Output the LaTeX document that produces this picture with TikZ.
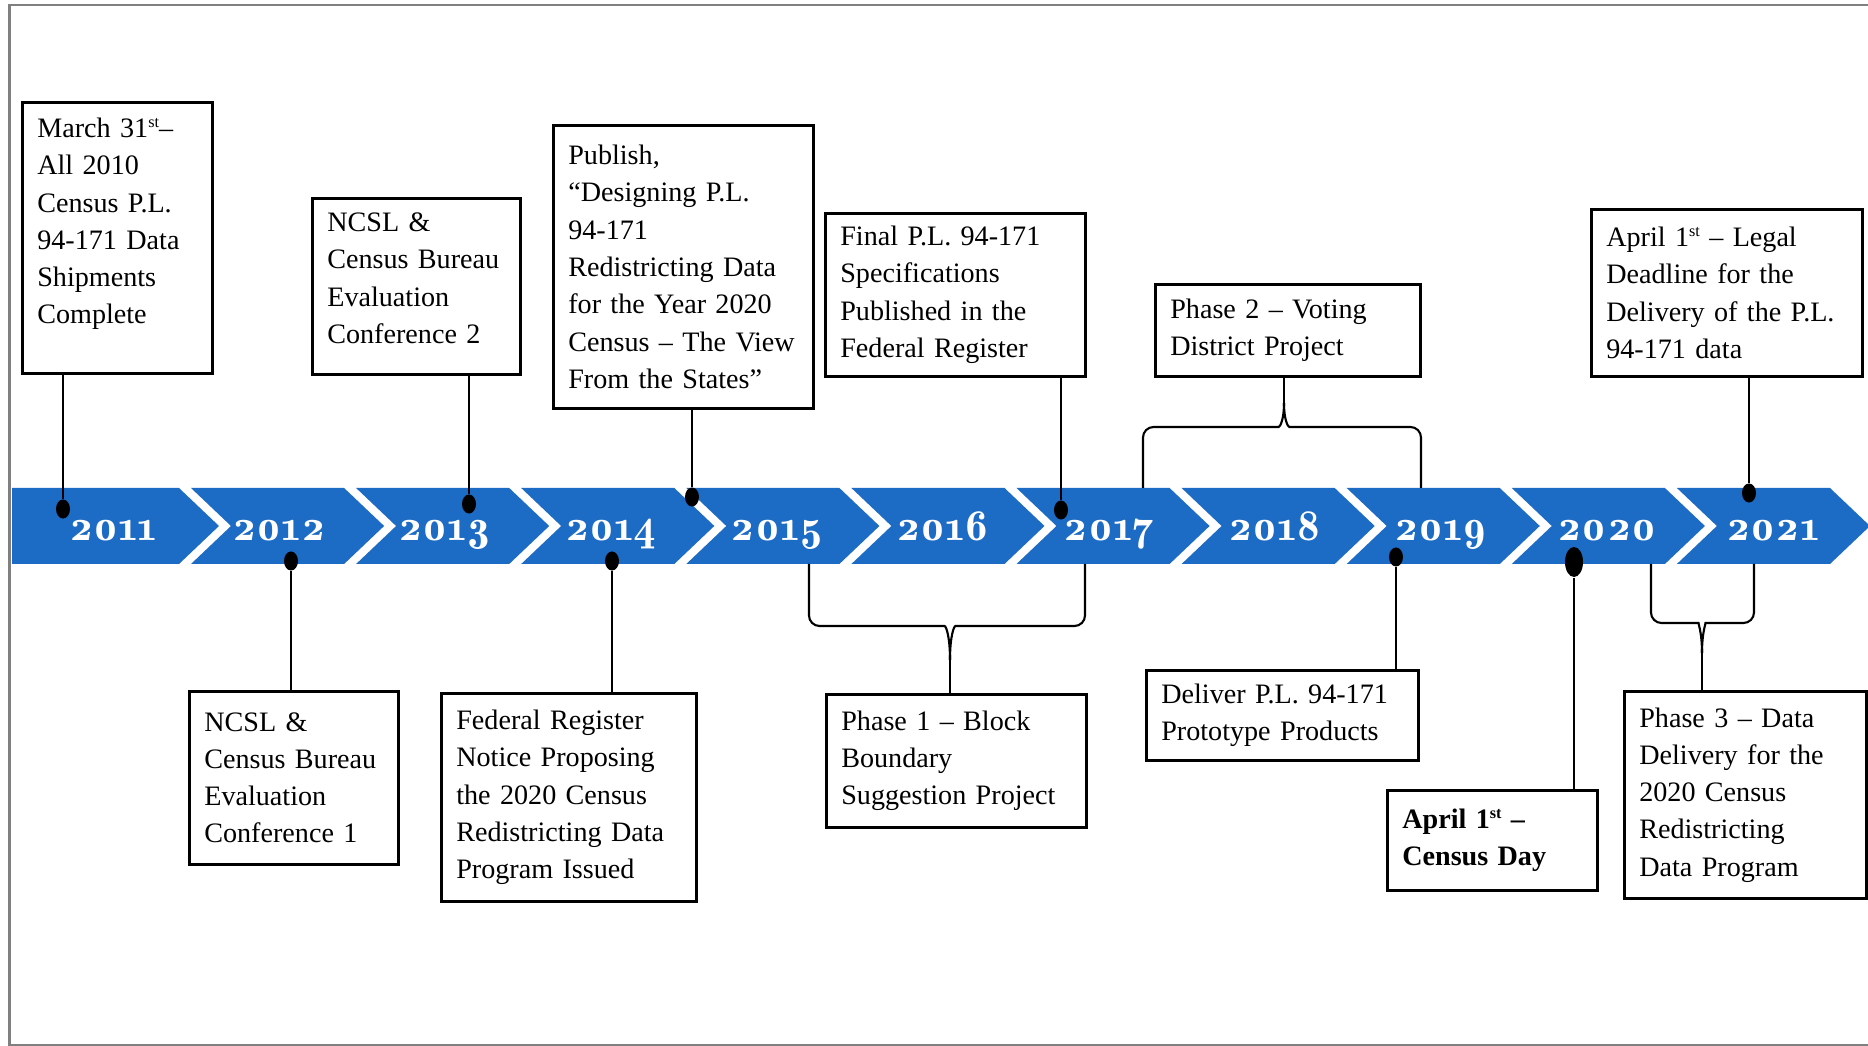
\documentclass[tikz,border=0pt]{standalone}
\usepackage{fontspec}
\setmainfont{Liberation Serif}
\newfontfamily\yearfont{lmromandemi10-regular.otf}[Numbers = OldStyle]
\usepackage{xcolor}
\usepackage{tikz}
\usetikzlibrary{shapes.geometric}
\definecolor{bandblue}{RGB}{28,107,196}
\definecolor{framegray}{RGB}{128,128,128}
\newcommand{\stsup}[1]{\raisebox{0.75ex}{\fontsize{4.6}{5}\selectfont #1}}
\tikzset{
	evt/.style 2 args = {draw, line width = 0.75pt, anchor = north west, align = left, inner xsep = 0.15cm, inner ysep = 0pt, text width = #1cm, minimum height = #2cm, font = \fontsize{8}{10.6}\selectfont},
	yr/.style = {text = white, anchor = base, inner sep = 0pt, font = \yearfont\fontsize{12.5}{12.5}\selectfont},
	evdot/.style = {ellipse, fill = black, inner sep = 0pt, minimum width = 0.14cm, minimum height = 0.19cm},
	link/.style = {line width = 0.6pt},
	brace/.style = {line width = 0.6pt, rounded corners = 3pt}}

\begin{document}
\begin{tikzpicture}[x = 0.01cm, y = -0.01cm]
	\useasboundingbox (0, 0) rectangle (1868, 1046);
	\draw[framegray, line width = 0.7pt] (1868, 5) -- (9.5, 5) -- (9.5, 1045) -- (1868, 1045);
	\foreach \i/\yr in {0/2011, 1/2012, 2/2013, 3/2014, 4/2015, 5/2016, 6/2017, 7/2018, 8/2019, 9/2020, 10/2021}{
		\pgfmathsetmacro{\rx}{179 + 165.1 * \i}
		\pgfmathsetmacro{\lx}{\i == 0 ? 12 : \rx - 153.1}
		\pgfmathsetmacro{\dn}{\i == 0 ? 0 : 40}
		\fill[bandblue] (\lx, 488) -- (\rx, 488) -- (\rx + 40, 526) -- (\rx, 564) -- (\lx, 564) -- (\lx + \dn, 526) -- cycle;
		\node[yr] (y\yr) at (113 + 166 * \i, 541) {\yr};}

	\node[evt = {1.60}{2.71}, text depth = 2.20cm] (b1) at (21, 101) {March 31\stsup{st}–\\All 2010\\Census P.L.\\94-171 Data\\Shipments\\Complete};
	\node[evt = {1.78}{1.76}, text depth = 1.28cm] (b2) at (311, 197) {NCSL \&\\Census Bureau\\Evaluation\\Conference 2};
	\node[evt = {2.30}{2.83}] (b3) at (552, 124) {Publish,\\“Designing P.L.\\94-171\\Redistricting Data\\for the Year 2020\\Census – The View\\From the States”};
	\node[evt = {2.30}{1.63}] (b4) at (824, 212) {Final P.L. 94-171\\Specifications\\Published in the\\Federal Register};
	\node[evt = {2.35}{0.92}] (b5) at (1154, 283) {Phase 2 – Voting\\District Project};
	\node[evt = {2.41}{1.67}] (b6) at (1590, 208) {April 1\stsup{st} – Legal\\Deadline for the\\Delivery of the P.L.\\94-171 data};
	\node[evt = {1.79}{1.73}] (b7) at (188, 690) {NCSL \&\\Census Bureau\\Evaluation\\Conference 1};
	\node[evt = {2.25}{2.08}] (b8) at (440, 692) {Federal Register\\Notice Proposing\\the 2020 Census\\Redistricting Data\\Program Issued};
	\node[evt = {2.30}{1.33}] (b9) at (825, 693) {Phase 1 – Block\\Boundary\\Suggestion Project};
	\node[evt = {2.42}{0.90}] (b10) at (1145, 669) {Deliver P.L. 94-171\\Prototype Products};
	\node[evt = {1.80}{1.00}, font = \fontsize{8}{10.6}\selectfont\bfseries] (b11) at (1386, 789) {April 1\stsup{st} –\\Census Day};
	\node[evt = {2.12}{2.07}] (b12) at (1623, 690) {Phase 3 – Data\\Delivery for the\\2020 Census\\Redistricting\\Data Program};

	\foreach \n/\x/\y in {d11/63/509, d13/469/504, d15/692/497, d17/1061/510, d21/1749/493, d12/291/561, d14/612/561, d19/1396/557}
		\node[evdot] (\n) at (\x, \y) {};
	\node[evdot, minimum width = 0.18cm, minimum height = 0.30cm] (d20) at (1574, 562) {};

	\draw[link] (b1.south -| d11) -- (d11);
	\draw[link] (b2.south -| d13) -- (d13);
	\draw[link] (b3.south -| d15) -- (d15);
	\draw[link] (b4.south -| d17) -- (d17);
	\draw[link] (b6.south -| d21) -- (d21);
	\draw[link] (b7.north -| d12) -- (d12);
	\draw[link] (b8.north -| d14) -- (d14);
	\draw[link] (b10.north -| d19) -- (d19);
	\draw[link] (b11.north -| d20) -- (d20);

	% braces
	\coordinate (p2l) at (1143, 488);
	\coordinate (p2r) at (1421, 488);
	\coordinate (p2) at (1284, 403);
	\draw[brace] (p2l) -- (1143, 427) -- (1268, 427) .. controls (1280, 427) and (1284, 420) .. (p2);
	\draw[brace] (p2r) -- (1421, 427) -- (1300, 427) .. controls (1288, 427) and (1284, 420) .. (p2);
	\draw[link] (p2) -- (b5.south -| p2);
	\coordinate (p1l) at (809, 564);
	\coordinate (p1r) at (1085, 564);
	\coordinate (p1) at (950, 660);
	\draw[brace] (p1l) -- (809, 626) -- (934, 626) .. controls (946, 626) and (950, 636) .. (p1);
	\draw[brace] (p1r) -- (1085, 626) -- (966, 626) .. controls (954, 626) and (950, 636) .. (p1);
	\draw[link] (p1) -- (b9.north -| p1);
	\coordinate (p3l) at (1651, 564);
	\coordinate (p3r) at (1754, 564);
	\coordinate (p3) at (1702, 653);
	\draw[brace] (p3l) -- (1651, 623) -- (1688, 623) .. controls (1698, 623) and (1702, 632) .. (p3);
	\draw[brace] (p3r) -- (1754, 623) -- (1716, 623) .. controls (1706, 623) and (1702, 632) .. (p3);
	\draw[link] (p3) -- (b12.north -| p3);
\end{tikzpicture}
\end{document}
